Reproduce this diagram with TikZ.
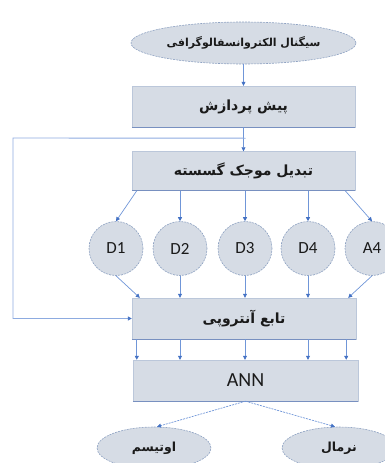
\documentclass[tikz,border=0pt]{standalone}
\usepackage{fontspec}
\setmainfont{Carlito}
\newfontfamily\fa[Script=Arabic]{DejaVu Sans}
\TeXXeTstate=1
\usetikzlibrary{shapes.geometric,arrows.meta,calc}
\definecolor{fillc}{HTML}{D6DCE5}
\definecolor{edgec}{HTML}{8EA2C2}
\definecolor{linec}{HTML}{7096D8}
\definecolor{tipc}{HTML}{4472C4}
\definecolor{botc}{HTML}{7890C0}
\definecolor{txtc}{HTML}{1A1A1A}
\tikzset{
  box/.style={rectangle, draw=edgec!60, line width=0.4pt, fill=fillc, minimum width=223pt, minimum height=40pt, inner sep=0pt, text=txtc},
  ovalbox/.style={ellipse, draw=edgec, dash pattern=on 2pt off 1pt, line width=0.6pt, fill=fillc, inner sep=0pt, text=txtc},
  circbox/.style={circle, draw=edgec, dash pattern=on 2pt off 1pt, line width=0.6pt, fill=fillc, minimum size=54pt, inner sep=0pt, text=txtc, font=\fontsize{17}{20}\selectfont},
  conn/.style={draw=linec, line width=0.7pt, -{Triangle[length=4pt,width=4pt,color=tipc]}},
  fbline/.style={draw=linec!80, line width=0.9pt},
  dconn/.style={conn, dash pattern=on 2pt off 1pt},
  faf/.style={font=\fa\bfseries\fontsize{#1}{16}\selectfont},
  faf/.default=14,
  bottomedge/.style={draw=botc, line width=1pt}
}
\begin{document}
\begin{tikzpicture}[x=1pt,y=-1pt]
\useasboundingbox (0,0) rectangle (385,463);
\clip (0,0) rectangle (385,463);
% nodes
\node[ovalbox, minimum width=225pt, minimum height=42pt, faf=11] (sig) at (243.5,43) {\beginR سیگنال الکتروانسفالوگرافی\endR};
\node[box, minimum height=41pt, faf] (pre) at (243.5,106.5) {\beginR پیش پردازش\endR};
\node[box, minimum height=39pt, faf] (dwt) at (243.5,171) {\beginR تبدیل موجک گسسته\endR};
\node[circbox] (d1) at (116,248.5) {D1};
\node[circbox] (d2) at (180,248.5) {D2};
\node[circbox] (d3) at (245,248.5) {D3};
\node[circbox] (d4) at (308,248.5) {D4};
\node[circbox] (a4) at (372,248.5) {A4};
\node[box, minimum width=224pt, minimum height=41pt, faf] (ent) at (244,318.5) {\beginR تابع آنتروپی\endR};
\node[box, minimum width=225pt, minimum height=41pt, font=\fontsize{20}{24}\selectfont] (ann) at (245.5,380.5) {ANN};
\node[ovalbox, minimum width=114pt, minimum height=42pt, faf=12.5] (aut) at (154,448) {\beginR اوتیسم\endR};
\node[ovalbox, minimum width=114pt, minimum height=42pt, faf=12.5] (nor) at (339,448) {\beginR نرمال\endR};
% box bottom edges
\foreach \b in {pre,dwt,ent,ann} {\draw[bottomedge] (\b.south west) -- (\b.south east);}
% connectors
\draw[conn] (sig.south) -- (pre.north);
\draw[conn] (pre.south) -- (dwt.north);
\coordinate (fb) at ($(pre.south)+(2,11)$);
\coordinate (fbl) at (13,138);
\draw[fbline, -{Triangle[length=4pt,width=4pt,color=tipc]}] (fb) -- (fbl) |- (ent.west);
\draw[conn] ($(dwt.south west)+(5,0)$) -- (d1.north);
\draw[conn] (dwt.south -| d2) -- (d2.north);
\draw[conn] (dwt.south -| d3) -- (d3.north);
\draw[conn] (dwt.south -| d4) -- (d4.north);
\draw[conn] ($(dwt.south east)+(-10,0)$) -- (a4.north);
\draw[conn] (d1.south) -- ($(ent.north west)+(8,0)$);
\draw[conn] (d2.south) -- (ent.north -| d2);
\draw[conn] (d3.south) -- (ent.north -| d3);
\draw[conn] (d4.south) -- (ent.north -| d4);
\draw[conn] (a4.south) -- ($(ent.north east)+(-8,0)$);
\draw[conn] ($(ent.south west)+(5,0)$) -- ($(ann.north west)+(4,0)$);
\draw[conn] (ent.south -| d2) -- (ann.north -| d2);
\draw[conn] (ent.south -| d3) -- (ann.north -| d3);
\draw[conn] (ent.south -| d4) -- (ann.north -| d4);
\draw[conn] ($(ent.south east)+(-10,0)$) -- ($(ann.north east)+(-12,0)$);
\draw[dconn] (ann.south) -- ($(aut.north)+(3,0)$);
\draw[dconn] (ann.south) -- ($(nor.north)+(-4,0)$);
\end{tikzpicture}
\end{document}
